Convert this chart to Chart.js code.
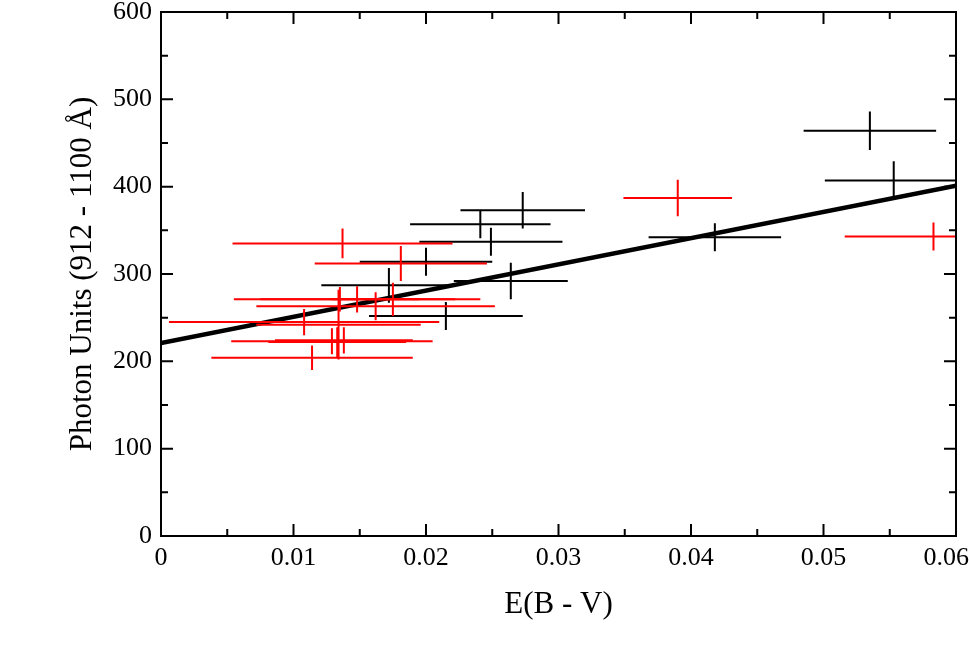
<!DOCTYPE html>
<html lang="en">
<head>
    <meta charset="UTF-8">
    <title>Photon Units vs E(B - V)</title>
    <script src="https://cdn.jsdelivr.net/npm/chart.js"></script>
    <style>
        html, body {
            margin: 0;
            padding: 0;
            background-color: #fff;
        }
        canvas {
            display: block;
        }
    </style>
</head>
<body>
    <canvas id="photonChart" width="969" height="645"></canvas>

    <script>
        // black sample: E(B-V), photon units and their errors
        const blackX    = [0.0273, 0.0241, 0.0249, 0.0200, 0.0264, 0.0172, 0.0215, 0.0535, 0.0553, 0.0418];
        const blackY    = [373, 357, 337, 314, 292, 287, 252, 464, 407, 342];
        const blackXErr = [0.0047, 0.0053, 0.0054, 0.0050, 0.0043, 0.0051, 0.0058, 0.0050, 0.0052, 0.0050];
        const blackYErr = [21, 16, 16, 16, 21, 20, 16, 22, 22, 16];

        // red sample
        const redX    = [0.0137, 0.0181, 0.0148, 0.0175, 0.0162, 0.0135, 0.0134, 0.0108, 0.0114, 0.0129, 0.0133, 0.0138, 0.0390, 0.0583];
        const redY    = [335, 312, 271, 271, 263, 271, 242, 245, 204, 223, 222, 224, 387, 343];
        const redXErr = [0.0083, 0.0065, 0.0093, 0.0047, 0.0090, 0.0060, 0.0062, 0.0102, 0.0076, 0.0076, 0.0052, 0.0052, 0.0041, 0.0067];
        const redYErr = [17, 20, 15, 19, 16, 14, 40, 15, 14, 15, 17, 15, 21, 16];

        // linear fit
        const fitX = [0, 0.06];
        const fitY = [221, 401];

        const toPoints = (xs, ys) => xs.map((v, i) => ({ x: v, y: ys[i] }));

        const serif = "'Liberation Serif', 'Times New Roman', serif";

        // error bar crosses, drawn through the chart scales
        const errorBars = {
            id: 'errorBars',
            afterDatasetsDraw(chart) {
                const { ctx, chartArea: a, scales: { x, y } } = chart;
                ctx.save();
                ctx.beginPath();
                ctx.rect(a.left, a.top, a.right - a.left, a.bottom - a.top);
                ctx.clip();
                chart.data.datasets.forEach(ds => {
                    if (!ds.xErr) return;
                    ctx.strokeStyle = ds.borderColor;
                    ctx.lineWidth = 2;
                    ds.data.forEach((p, i) => {
                        const px = x.getPixelForValue(p.x);
                        const py = y.getPixelForValue(p.y);
                        ctx.beginPath();
                        ctx.moveTo(x.getPixelForValue(p.x - ds.xErr[i]), py);
                        ctx.lineTo(x.getPixelForValue(p.x + ds.xErr[i]), py);
                        ctx.moveTo(px, y.getPixelForValue(p.y - ds.yErr[i]));
                        ctx.lineTo(px, y.getPixelForValue(p.y + ds.yErr[i]));
                        ctx.stroke();
                    });
                });
                ctx.restore();
            }
        };

        // box frame with inward major / minor ticks on all four sides
        const frameTicks = {
            id: 'frameTicks',
            afterDraw(chart) {
                const { ctx, chartArea: a, scales: { x, y } } = chart;
                ctx.save();
                ctx.strokeStyle = '#000';
                ctx.lineWidth = 2;
                ctx.strokeRect(a.left, a.top, a.right - a.left, a.bottom - a.top);
                ctx.beginPath();
                const xStep = 0.005;
                for (let k = 0; x.min + k * xStep <= x.max + 1e-9; k++) {
                    const px = x.getPixelForValue(x.min + k * xStep);
                    const len = k % 2 === 0 ? 12 : 7;
                    ctx.moveTo(px, a.bottom); ctx.lineTo(px, a.bottom - len);
                    ctx.moveTo(px, a.top); ctx.lineTo(px, a.top + len);
                }
                const yStep = 50;
                for (let k = 0; y.min + k * yStep <= y.max + 1e-9; k++) {
                    const py = y.getPixelForValue(y.min + k * yStep);
                    const len = k % 2 === 0 ? 12 : 7;
                    ctx.moveTo(a.left, py); ctx.lineTo(a.left + len, py);
                    ctx.moveTo(a.right, py); ctx.lineTo(a.right - len, py);
                }
                ctx.stroke();
                ctx.restore();
            }
        };

        const chart = new Chart(document.getElementById('photonChart'), {
            type: 'scatter',
            data: {
                datasets: [
                    {
                        type: 'line',
                        label: 'fit',
                        data: toPoints(fitX, fitY),
                        borderColor: '#000',
                        borderWidth: 4.5,
                        pointRadius: 0,
                        fill: false
                    },
                    {
                        label: 'black',
                        data: toPoints(blackX, blackY),
                        xErr: blackXErr,
                        yErr: blackYErr,
                        borderColor: '#000',
                        backgroundColor: '#000',
                        pointRadius: 0
                    },
                    {
                        label: 'red',
                        data: toPoints(redX, redY),
                        xErr: redXErr,
                        yErr: redYErr,
                        borderColor: '#ff0000',
                        backgroundColor: '#ff0000',
                        pointRadius: 0
                    }
                ]
            },
            options: {
                responsive: false,
                animation: false,
                layout: {
                    padding: { top: 12, right: 13, bottom: 0, left: 0 }
                },
                plugins: {
                    legend: { display: false },
                    tooltip: { enabled: false }
                },
                scales: {
                    x: {
                        type: 'linear',
                        min: 0,
                        max: 0.06,
                        grid: { display: false, drawTicks: false },
                        border: { display: false },
                        ticks: {
                            stepSize: 0.01,
                            padding: 7,
                            color: '#000',
                            maxRotation: 0,
                            font: { family: serif, size: 26 },
                            // last label sits against the page edge, nudged left with trailing spaces
                            callback: v => v === 0 ? '0' : (v >= 0.06 - 1e-9 ? v.toFixed(2) + '   ' : v.toFixed(2))
                        },
                        title: {
                            display: true,
                            text: 'E(B - V)',
                            color: '#000',
                            font: { family: serif, size: 31 },
                            padding: { top: 0, bottom: 22 }
                        },
                        afterFit(scale) {
                            scale.height = 109;
                            scale.paddingLeft = 0;
                            scale.paddingRight = 0;
                        }
                    },
                    y: {
                        type: 'linear',
                        min: 0,
                        max: 600,
                        grid: { display: false, drawTicks: false },
                        border: { display: false },
                        ticks: {
                            stepSize: 100,
                            padding: 9,
                            color: '#000',
                            font: { family: serif, size: 26 }
                        },
                        title: {
                            display: true,
                            text: 'Photon Units (912 - 1100 Å)',
                            color: '#000',
                            font: { family: serif, size: 31 },
                            padding: { top: 64, bottom: 0 }
                        },
                        afterFit(scale) {
                            scale.width = 161;
                            scale.paddingTop = 0;
                            scale.paddingBottom = 0;
                        }
                    }
                }
            },
            plugins: [errorBars, frameTicks]
        });
    </script>
</body>
</html>
